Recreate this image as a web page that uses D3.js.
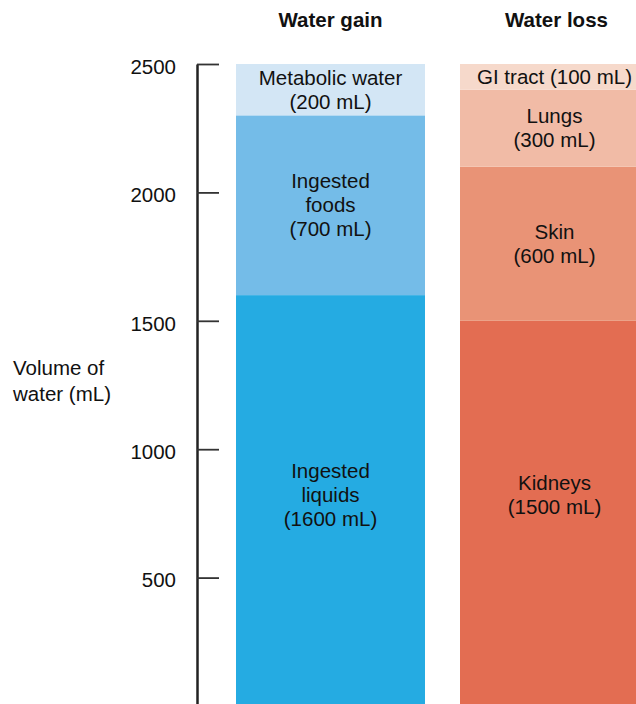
<!DOCTYPE html>
<html>
<head>
<meta charset="utf-8">
<script src="https://cdn.jsdelivr.net/npm/d3@7"></script>
<style>
  body { margin: 0; background: #fff; }
  svg { display: block; font-family: "Liberation Sans", Arial, Helvetica, sans-serif; }
</style>
</head>
<body>
<svg id="chart" width="636" height="704"></svg>
<script>
// ---- data ----
const columns = ["Water gain", "Water loss"];
const gainNames = [["Ingested", "liquids"], ["Ingested", "foods"], ["Metabolic water"]];
const gainValues = [1600, 700, 200];
const gainColors = ["#25abe2", "#74bce8", "#d3e6f5"];
const lossNames = [["Kidneys"], ["Skin"], ["Lungs"], ["GI tract"]];
const lossValues = [1500, 600, 300, 100];
const lossColors = ["#e36d52", "#e99376", "#f1bba6", "#f6d9cb"];
const tickValues = [500, 1000, 1500, 2000, 2500];
const axisTitle = ["Volume of", "water (mL)"];

// ---- layout ----
const FS = 20.5;
const svg = d3.select("#chart");
const y = d3.scaleLinear().domain([0, 2500]).range([706, 64]);
const x = d3.scaleBand().domain(columns).range([236, 649]).paddingInner(35 / 224).paddingOuter(0);
const lineH = 24;
const bottomLabelValue = 820;

function stack(names, values, colors, col) {
  let acc = 0;
  return values.map((v, i) => {
    const d = { col, y0: acc, y1: acc + v, value: v, names: names[i], color: colors[i] };
    acc += v;
    return d;
  });
}
const segs = stack(gainNames, gainValues, gainColors, "Water gain")
  .concat(stack(lossNames, lossValues, lossColors, "Water loss"));

svg.append("g").selectAll("rect").data(segs).join("rect")
  .attr("x", d => x(d.col))
  .attr("width", x.bandwidth())
  .attr("y", d => y(d.y1))
  .attr("height", d => y(d.y0) - y(d.y1))
  .attr("fill", d => d.color);

// segment labels
segs.forEach(d => {
  let lines;
  if (d.names[0] === "GI tract") lines = [d.names[0] + " (" + d.value + " mL)"];
  else lines = d.names.concat(["(" + d.value + " mL)"]);
  const cy = d.y0 === 0 ? y(bottomLabelValue) : (y(d.y0) + y(d.y1)) / 2;
  const cx = x(d.col) + x.bandwidth() / 2;
  const t = svg.append("text")
    .attr("text-anchor", "middle")
    .attr("font-size", FS)
    .attr("fill", "#111");
  lines.forEach((s, i) => {
    t.append("tspan")
      .attr("x", cx)
      .attr("y", cy + (i - (lines.length - 1) / 2) * lineH + 7)
      .text(s);
  });
});

// column titles
svg.append("g").selectAll("text").data(columns).join("text")
  .attr("x", d => x(d) + x.bandwidth() / 2 + (d === "Water loss" ? 2 : 0))
  .attr("y", 27)
  .attr("text-anchor", "middle")
  .attr("font-size", FS)
  .attr("font-weight", "bold")
  .attr("fill", "#111")
  .text(d => d);

// axis
const axis = d3.axisLeft(y).tickValues(tickValues).tickFormat(d3.format("d"))
  .tickSizeInner(-22).tickSizeOuter(0).tickPadding(21);
const ag = svg.append("g").attr("transform", "translate(197,0)").call(axis);
ag.select(".domain").attr("stroke", "#222").attr("stroke-width", 2.5);
ag.selectAll(".tick line").attr("stroke", "#333").attr("stroke-width", 1.8);
ag.selectAll(".tick text")
  .attr("font-size", FS)
  .attr("font-family", "'Liberation Sans', Arial, Helvetica, sans-serif")
  .attr("fill", "#111")
  .attr("dy", "0.45em");

// axis title
const at = svg.append("text").attr("font-size", FS).attr("fill", "#111");
axisTitle.forEach((s, i) => {
  at.append("tspan").attr("x", 13).attr("y", 375 + i * 26).text(s);
});
</script>
</body>
</html>
